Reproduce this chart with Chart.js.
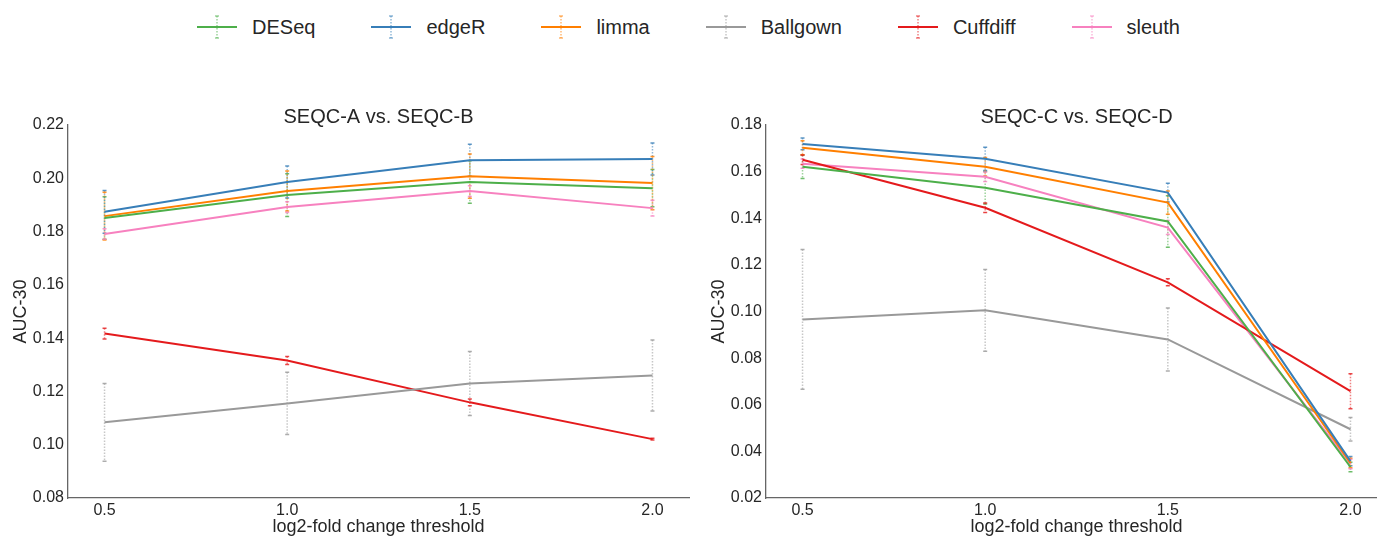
<!DOCTYPE html>
<html>
<head>
<meta charset="utf-8">
<script src="https://cdn.jsdelivr.net/npm/chart.js@4"></script>
<style>
  html, body { margin: 0; padding: 0; background: #fff; overflow: hidden; }
  body { width: 1377px; height: 536px; position: relative; font-family: "Liberation Sans", Arial, sans-serif; }
  #legend { position: absolute; left: 0; top: 14px; width: 1377px; display: flex; justify-content: center; align-items: center; }
  .item { display: flex; align-items: center; margin: 0 28px; font-size: 20px; color: #262626; }
  .item canvas { margin-right: 15px; }
  .panel { position: absolute; top: 0; }
</style>
</head>
<body>
<div id="legend"></div>
<canvas id="js--chart--1" class="panel" style="left:0px"></canvas>
<canvas id="js--chart--2" class="panel" style="left:698px"></canvas>
<script>
const thresholds = [0.5, 1.0, 1.5, 2.0];
const methods = ["DESeq", "edgeR", "limma", "Ballgown", "Cuffdiff", "sleuth"];
const colors = ['#4daf4a', '#377eb8', '#ff7f00', '#999999', '#e41a1c', '#f781bf'];

// SEQC-A vs. SEQC-B, mean AUC-30 and spread
const deseqAB    = [0.1851, 0.1937, 0.1986, 0.1963];
const edgerAB    = [0.1874, 0.1986, 0.2068, 0.2072];
const limmaAB    = [0.1858, 0.1952, 0.2008, 0.1982];
const ballgownAB = [0.1084, 0.1155, 0.1230, 0.1260];
const cuffdiffAB = [0.1417, 0.1316, 0.1159, 0.1021];
const sleuthAB   = [0.1791, 0.1892, 0.1952, 0.1888];
const deseqABErr    = [0.008, 0.008, 0.008, 0.007];
const edgerABErr    = [0.008, 0.006, 0.006, 0.006];
const limmaABErr    = [0.009, 0.0075, 0.0083, 0.010];
const ballgownABErr = [0.0146, 0.0117, 0.012, 0.0133];
const cuffdiffABErr = [0.002, 0.0015, 0.0013, 0.0003];
const sleuthABErr   = [0.002, 0.002, 0.002, 0.003];

// SEQC-C vs. SEQC-D
const deseqCD    = [0.1621, 0.1531, 0.1386, 0.0333];
const edgerCD    = [0.1719, 0.1655, 0.1510, 0.0358];
const limmaCD    = [0.1702, 0.1621, 0.1467, 0.0350];
const ballgownCD = [0.0966, 0.1005, 0.0880, 0.0495];
const cuffdiffCD = [0.1651, 0.1445, 0.1125, 0.0658];
const sleuthCD   = [0.1634, 0.1578, 0.1360, 0.0346];
const deseqCDErr    = [0.005, 0.007, 0.011, 0.002];
const edgerCDErr    = [0.0025, 0.005, 0.004, 0.002];
const limmaCDErr    = [0.003, 0.004, 0.005, 0.002];
const ballgownCDErr = [0.030, 0.0175, 0.0135, 0.005];
const cuffdiffCDErr = [0.002, 0.002, 0.0015, 0.0075];
const sleuthCDErr   = [0.002, 0.002, 0.003, 0.002];

const yTicksAB = [0.08, 0.10, 0.12, 0.14, 0.16, 0.18, 0.20, 0.22];
const yTicksCD = [0.02, 0.04, 0.06, 0.08, 0.10, 0.12, 0.14, 0.16, 0.18];

const FONT = "'Liberation Sans', Arial, sans-serif";
const TEXT = '#262626';

function fade(hex, a) {
    const n = parseInt(hex.slice(1), 16);
    return 'rgba(' + (n >> 16) + ',' + ((n >> 8) & 255) + ',' + (n & 255) + ',' + a + ')';
}

function makeDatasets(values, errors) {
    return methods.map(function(m, i) {
        return {
            label: m,
            data: thresholds.map(function(x, j) { return {x: x, y: values[i][j]}; }),
            errors: errors[i],
            borderColor: colors[i],
            backgroundColor: colors[i],
            borderWidth: 2,
            pointRadius: 0,
            tension: 0
        };
    });
}

// dotted vertical error bars with small caps, drawn under the lines
const errorBars = {
    id: 'errorBars',
    beforeDatasetsDraw(chart) {
        const ctx = chart.ctx;
        const xs = chart.scales.x, ys = chart.scales.y;
        chart.data.datasets.forEach(function(ds) {
            ctx.save();
            ctx.lineWidth = 1.5;
            ds.data.forEach(function(p, j) {
                const e = ds.errors[j];
                const px = xs.getPixelForValue(p.x);
                const top = ys.getPixelForValue(p.y + e);
                const bot = ys.getPixelForValue(p.y - e);
                ctx.strokeStyle = fade(ds.borderColor, 0.55);
                ctx.setLineDash([1.5, 1.5]);
                ctx.beginPath();
                ctx.moveTo(px, top);
                ctx.lineTo(px, bot);
                ctx.stroke();
                ctx.setLineDash([]);
                ctx.strokeStyle = fade(ds.borderColor, 0.8);
                ctx.beginPath();
                ctx.moveTo(px - 2, top); ctx.lineTo(px + 2, top);
                ctx.moveTo(px - 2, bot); ctx.lineTo(px + 2, bot);
                ctx.stroke();
            });
            ctx.restore();
        });
    }
};

// panel title sitting just above the plot area
const panelTitle = {
    id: 'panelTitle',
    afterDraw(chart, args, opts) {
        const ctx = chart.ctx, a = chart.chartArea;
        ctx.save();
        ctx.font = '20px ' + FONT;
        ctx.fillStyle = TEXT;
        ctx.textAlign = 'center';
        ctx.textBaseline = 'middle';
        ctx.fillText(opts.text, (a.left + a.right) / 2, a.top - 8);
        ctx.restore();
    }
};

function makeConfig(values, errors, yTicks, title) {
    return {
        type: 'line',
        data: { datasets: makeDatasets(values, errors) },
        plugins: [errorBars, panelTitle],
        options: {
            responsive: false,
            animation: false,
            layout: { padding: { top: 125, right: 11, left: 0, bottom: 0 } },
            plugins: {
                legend: { display: false },
                tooltip: { enabled: false },
                panelTitle: { text: title }
            },
            scales: {
                x: {
                    type: 'linear',
                    min: 0.4,
                    max: 2.1,
                    afterBuildTicks: function(s) { s.ticks = thresholds.map(function(v) { return {value: v}; }); },
                    afterFit: function(s) { s.height = 38; },
                    grid: { display: false, drawTicks: false },
                    border: { color: '#666', width: 1.3 },
                    ticks: { padding: 3, color: TEXT, font: { family: FONT, size: 16 },
                             callback: function(v) { return v.toFixed(1); } },
                    title: { display: true, text: 'log2-fold change threshold', color: TEXT,
                             font: { family: FONT, size: 18, lineHeight: 1.0 }, padding: { top: 0, bottom: 0 } }
                },
                y: {
                    min: yTicks[0],
                    max: yTicks[yTicks.length - 1],
                    afterBuildTicks: function(s) { s.ticks = yTicks.map(function(v) { return {value: v}; }); },
                    afterFit: function(s) { s.width = 68; },
                    grid: { display: false, drawTicks: false },
                    border: { color: '#666', width: 1.3 },
                    ticks: { padding: 4, color: TEXT, font: { family: FONT, size: 16 },
                             callback: function(v) { return v.toFixed(2); } },
                    title: { display: true, text: 'AUC-30', color: TEXT,
                             font: { family: FONT, size: 18 }, padding: { top: 10, bottom: 0 } }
                }
            }
        }
    };
}

function sizeCanvas(id) {
    const c = document.getElementById(id);
    c.width = 700; c.height = 536;
    c.style.width = '700px'; c.style.height = '536px';
    return c;
}

new Chart(sizeCanvas("js--chart--1"), makeConfig(
    [deseqAB, edgerAB, limmaAB, ballgownAB, cuffdiffAB, sleuthAB],
    [deseqABErr, edgerABErr, limmaABErr, ballgownABErr, cuffdiffABErr, sleuthABErr],
    yTicksAB, 'SEQC-A vs. SEQC-B'));

new Chart(sizeCanvas("js--chart--2"), makeConfig(
    [deseqCD, edgerCD, limmaCD, ballgownCD, cuffdiffCD, sleuthCD],
    [deseqCDErr, edgerCDErr, limmaCDErr, ballgownCDErr, cuffdiffCDErr, sleuthCDErr],
    yTicksCD, 'SEQC-C vs. SEQC-D'));

// shared legend: line with an error bar through it, then the name
const legend = document.getElementById('legend');
methods.forEach(function(m, i) {
    const item = document.createElement('div');
    item.className = 'item';
    const icon = document.createElement('canvas');
    icon.width = 40; icon.height = 26;
    const g = icon.getContext('2d');
    g.strokeStyle = colors[i];
    g.lineWidth = 2;
    g.beginPath(); g.moveTo(0, 13); g.lineTo(40, 13); g.stroke();
    g.strokeStyle = fade(colors[i], 0.55);
    g.lineWidth = 1.5;
    g.setLineDash([1.5, 1.5]);
    g.beginPath(); g.moveTo(20, 2); g.lineTo(20, 24); g.stroke();
    g.setLineDash([]);
    g.beginPath(); g.moveTo(18, 2); g.lineTo(22, 2); g.moveTo(18, 24); g.lineTo(22, 24); g.stroke();
    const label = document.createElement('span');
    label.textContent = m;
    item.appendChild(icon);
    item.appendChild(label);
    legend.appendChild(item);
});
</script>
</body>
</html>
